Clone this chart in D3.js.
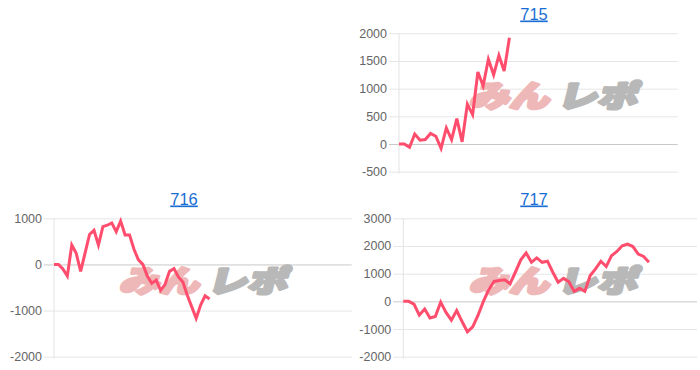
<!DOCTYPE html>
<html>
<head>
<meta charset="utf-8">
<script src="https://cdn.jsdelivr.net/npm/d3@7"></script>
<style>
  body { margin: 0; background: #fff; }
  svg { display: block; font-family: "Liberation Sans", Arial, Helvetica, sans-serif; }
</style>
</head>
<body>
<svg id="chart" width="700" height="370"></svg>
<script>
// machine numbers and their coin difference graphs
const titles = ["715", "716", "717"];
const diff715 = [0, 0, -60, 180, 70, 80, 190, 140, -80, 290, 80, 460, 40, 720, 530, 1300, 1050, 1530, 1250, 1600, 1320, 1920];
const diff716 = [0, 0, -100, -250, 420, 240, -150, 250, 650, 740, 420, 820, 850, 900, 710, 940, 640, 640, 330, 100,
  0, -250, -410, -340, -560, -430, -150, -90, -270, -380, -670, -920, -1170, -880, -680, -750];
const diff717 = [0, 0, -100, -500, -280, -600, -550, -30, -400, -680, -330, -730, -1100, -920, -500, 0, 420, 720, 750, 780,
  640, 1060, 1500, 1750, 1410, 1570, 1410, 1450, 1050, 690, 830, 710, 360, 470, 360, 930, 1170, 1450, 1260, 1650,
  1800, 2010, 2070, 1980, 1710, 1620, 1410];
const xSlots = [53, 67, 55];
const yTicks715 = [-500, 0, 500, 1000, 1500, 2000];
const yTicks716 = [-2000, -1000, 0, 1000];
const yTicks717 = [-2000, -1000, 0, 1000, 2000, 3000];
const watermark = ["みん", "レポ"];

const allSeries = [diff715, diff716, diff717];
const allTicks = [yTicks715, yTicks716, yTicks717];

// where each little chart sits (page coords of its cell, plot edges inside the cell)
const panels = [
  { ox: 350, oy: 0, left: 49, right: 327.7 },
  { ox: 0, oy: 185, left: 54, right: 351.7 },
  { ox: 350, oy: 185, left: 53.3, right: 347 }
];
const plotTop = 33.3, plotBottom = 171.7;

const svg = d3.select("#chart");

panels.forEach((p, i) => {
  const g = svg.append("g").attr("transform", `translate(${p.ox},${p.oy})`);
  const ticks = allTicks[i];
  const values = allSeries[i];

  const x = d3.scaleLinear().domain([0, xSlots[i]]).range([p.left, p.right]);
  const y = d3.scaleLinear().domain(d3.extent(ticks)).range([plotBottom, plotTop]);

  // title (looks like a link)
  g.append("text")
    .attr("x", 184)
    .attr("y", 19.5)
    .attr("text-anchor", "middle")
    .attr("fill", "#1a6dd2")
    .attr("font-size", "16.5px")
    .attr("text-decoration", "underline")
    .text(titles[i]);

  // horizontal gridlines
  const grid = g.append("g")
    .attr("transform", `translate(${p.left},0)`)
    .call(d3.axisLeft(y).tickValues(ticks).tickSize(-(p.right - p.left)).tickFormat(""));
  grid.select(".domain").remove();
  grid.selectAll(".tick line")
    .attr("stroke", d => d === 0 ? "#c9c9c9" : "#e6e6e6");

  // tick stubs + labels
  const axis = g.append("g")
    .attr("transform", `translate(${p.left},0)`)
    .call(d3.axisLeft(y).tickValues(ticks).tickSize(10).tickPadding(2).tickFormat(d => String(d)));
  axis.select(".domain").remove();
  axis.selectAll(".tick line")
    .attr("stroke", d => d === 0 ? "#c9c9c9" : "#e6e6e6");
  axis.selectAll(".tick text")
    .attr("fill", "#666")
    .attr("font-size", "12.5px")
    .attr("font-family", "'Liberation Sans', Arial, sans-serif");

  // left border of the plot
  g.append("line")
    .attr("x1", p.left).attr("x2", p.left)
    .attr("y1", plotTop).attr("y2", plotBottom + 2)
    .attr("stroke", "#e3e3e3");

  // watermark
  const wm = g.append("g").attr("transform", "translate(119,107) skewX(-14) scale(1,0.86)");
  wm.append("text")
    .attr("x", 0)
    .attr("textLength", 80)
    .attr("lengthAdjust", "spacingAndGlyphs")
    .attr("font-family", "'Noto Sans CJK JP', sans-serif")
    .attr("font-weight", 900)
    .attr("font-size", "35px")
    .attr("fill", "#efb8b8")
    .attr("stroke", "#efb8b8")
    .attr("stroke-width", 3.5)
    .attr("stroke-linejoin", "round")
    .text(watermark[0]);
  wm.append("text")
    .attr("x", 88)
    .attr("textLength", 80)
    .attr("lengthAdjust", "spacingAndGlyphs")
    .attr("font-family", "'Noto Sans CJK JP', sans-serif")
    .attr("font-weight", 900)
    .attr("font-size", "35px")
    .attr("fill", "#b8b8b8")
    .attr("stroke", "#b8b8b8")
    .attr("stroke-width", 3.5)
    .attr("stroke-linejoin", "round")
    .text(watermark[1]);

  // the difference line
  g.append("path")
    .datum(values)
    .attr("fill", "none")
    .attr("stroke", "#ff4d6d")
    .attr("stroke-width", 3)
    .attr("stroke-linejoin", "miter")
    .attr("d", d3.line()
      .x((d, k) => x(k))
      .y(d => y(d)));
});
</script>
</body>
</html>
